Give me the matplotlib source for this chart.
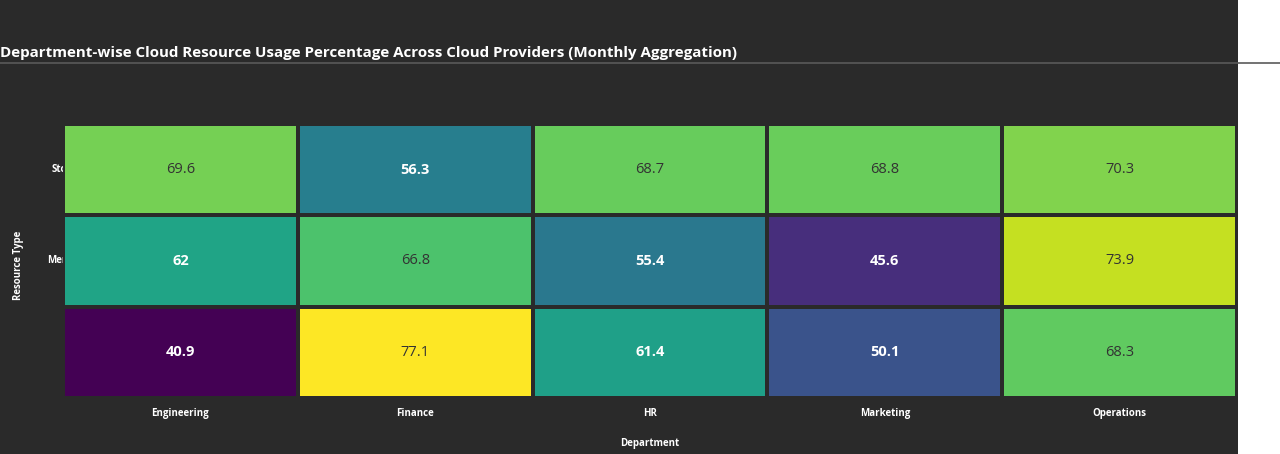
import matplotlib
matplotlib.use('Agg')
import matplotlib.pyplot as plt
import numpy as np
from matplotlib.lines import Line2D
from matplotlib.patches import Rectangle

departments = ['Engineering', 'Finance', 'HR', 'Marketing', 'Operations']
resources = ['CPU', 'Memory', 'Storage']  # bottom to top
usage = [
    [40.9, 77.1, 61.4, 50.1, 68.3],   # CPU
    [62.0, 66.8, 55.4, 45.6, 73.9],   # Memory
    [69.6, 56.3, 68.7, 68.8, 70.3],   # Storage
]

BG = '#2a2a2a'
plt.rcParams['font.family'] = ['Open Sans', 'DejaVu Sans']

fig = plt.figure(figsize=(12.8, 4.54), dpi=100)
fig.patch.set_facecolor(BG)
fig.patches.append(Rectangle((1238 / 1280, 0), 1 - 1238 / 1280, 1, transform=fig.transFigure,
                             facecolor='white', edgecolor='none', zorder=0))
fig.add_artist(Line2D([0, 1], [1 - 63 / 454, 1 - 63 / 454], transform=fig.transFigure,
                      color='#5a5a5a', lw=1.2, zorder=3))

ax = fig.add_axes([63 / 1280, 1 - 398 / 454, 1174 / 1280, 274 / 454])
ax.set_facecolor(BG)
data = np.array(usage)
vmin, vmax = data.min(), data.max()
ax.pcolormesh(np.arange(len(departments) + 1), np.arange(len(resources) + 1), data,
              cmap='viridis', vmin=vmin, vmax=vmax, edgecolor=BG, linewidth=1.6, zorder=2)
ax.set_xlim(0, len(departments))
ax.set_ylim(0, len(resources))
for s in ax.spines.values():
    s.set_visible(False)

for i, row in enumerate(usage):
    for j, v in enumerate(row):
        norm = (v - vmin) / (vmax - vmin)
        light = norm > 0.65
        ax.text(j + 0.5, i + 0.5, f'{v:g}', ha='center', va='center', fontsize=10.5,
                color='#333333' if light else 'white',
                fontweight='normal' if light else 'bold', zorder=3)

ax.set_xticks(np.arange(len(departments)) + 0.5)
ax.set_xticklabels(departments, color='white', fontsize=7, fontweight='bold')
ax.tick_params(axis='x', length=0, pad=7)
ax.set_yticks([])
# y labels sit partly under the cells
for i, r in enumerate(resources):
    ax.text(25 / 1174 * len(departments), i + 0.5, r, ha='right', va='center', fontsize=7,
            fontweight='bold', color='white', zorder=1, clip_on=False)

ax.set_xlabel('Department', color='white', fontsize=7, fontweight='bold', labelpad=14)
fig.text(19 / 1280, 1 - 265 / 454, 'Resource Type', rotation=90, ha='center', va='center',
         color='white', fontsize=7, fontweight='bold')

fig.text(0.0, 1 - 53 / 454, 'Department-wise Cloud Resource Usage Percentage Across Cloud Providers (Monthly Aggregation)',
         ha='left', va='center', color='white', fontsize=10.9, fontweight='bold')

fig.savefig('out.png', dpi=100, facecolor=fig.get_facecolor())
